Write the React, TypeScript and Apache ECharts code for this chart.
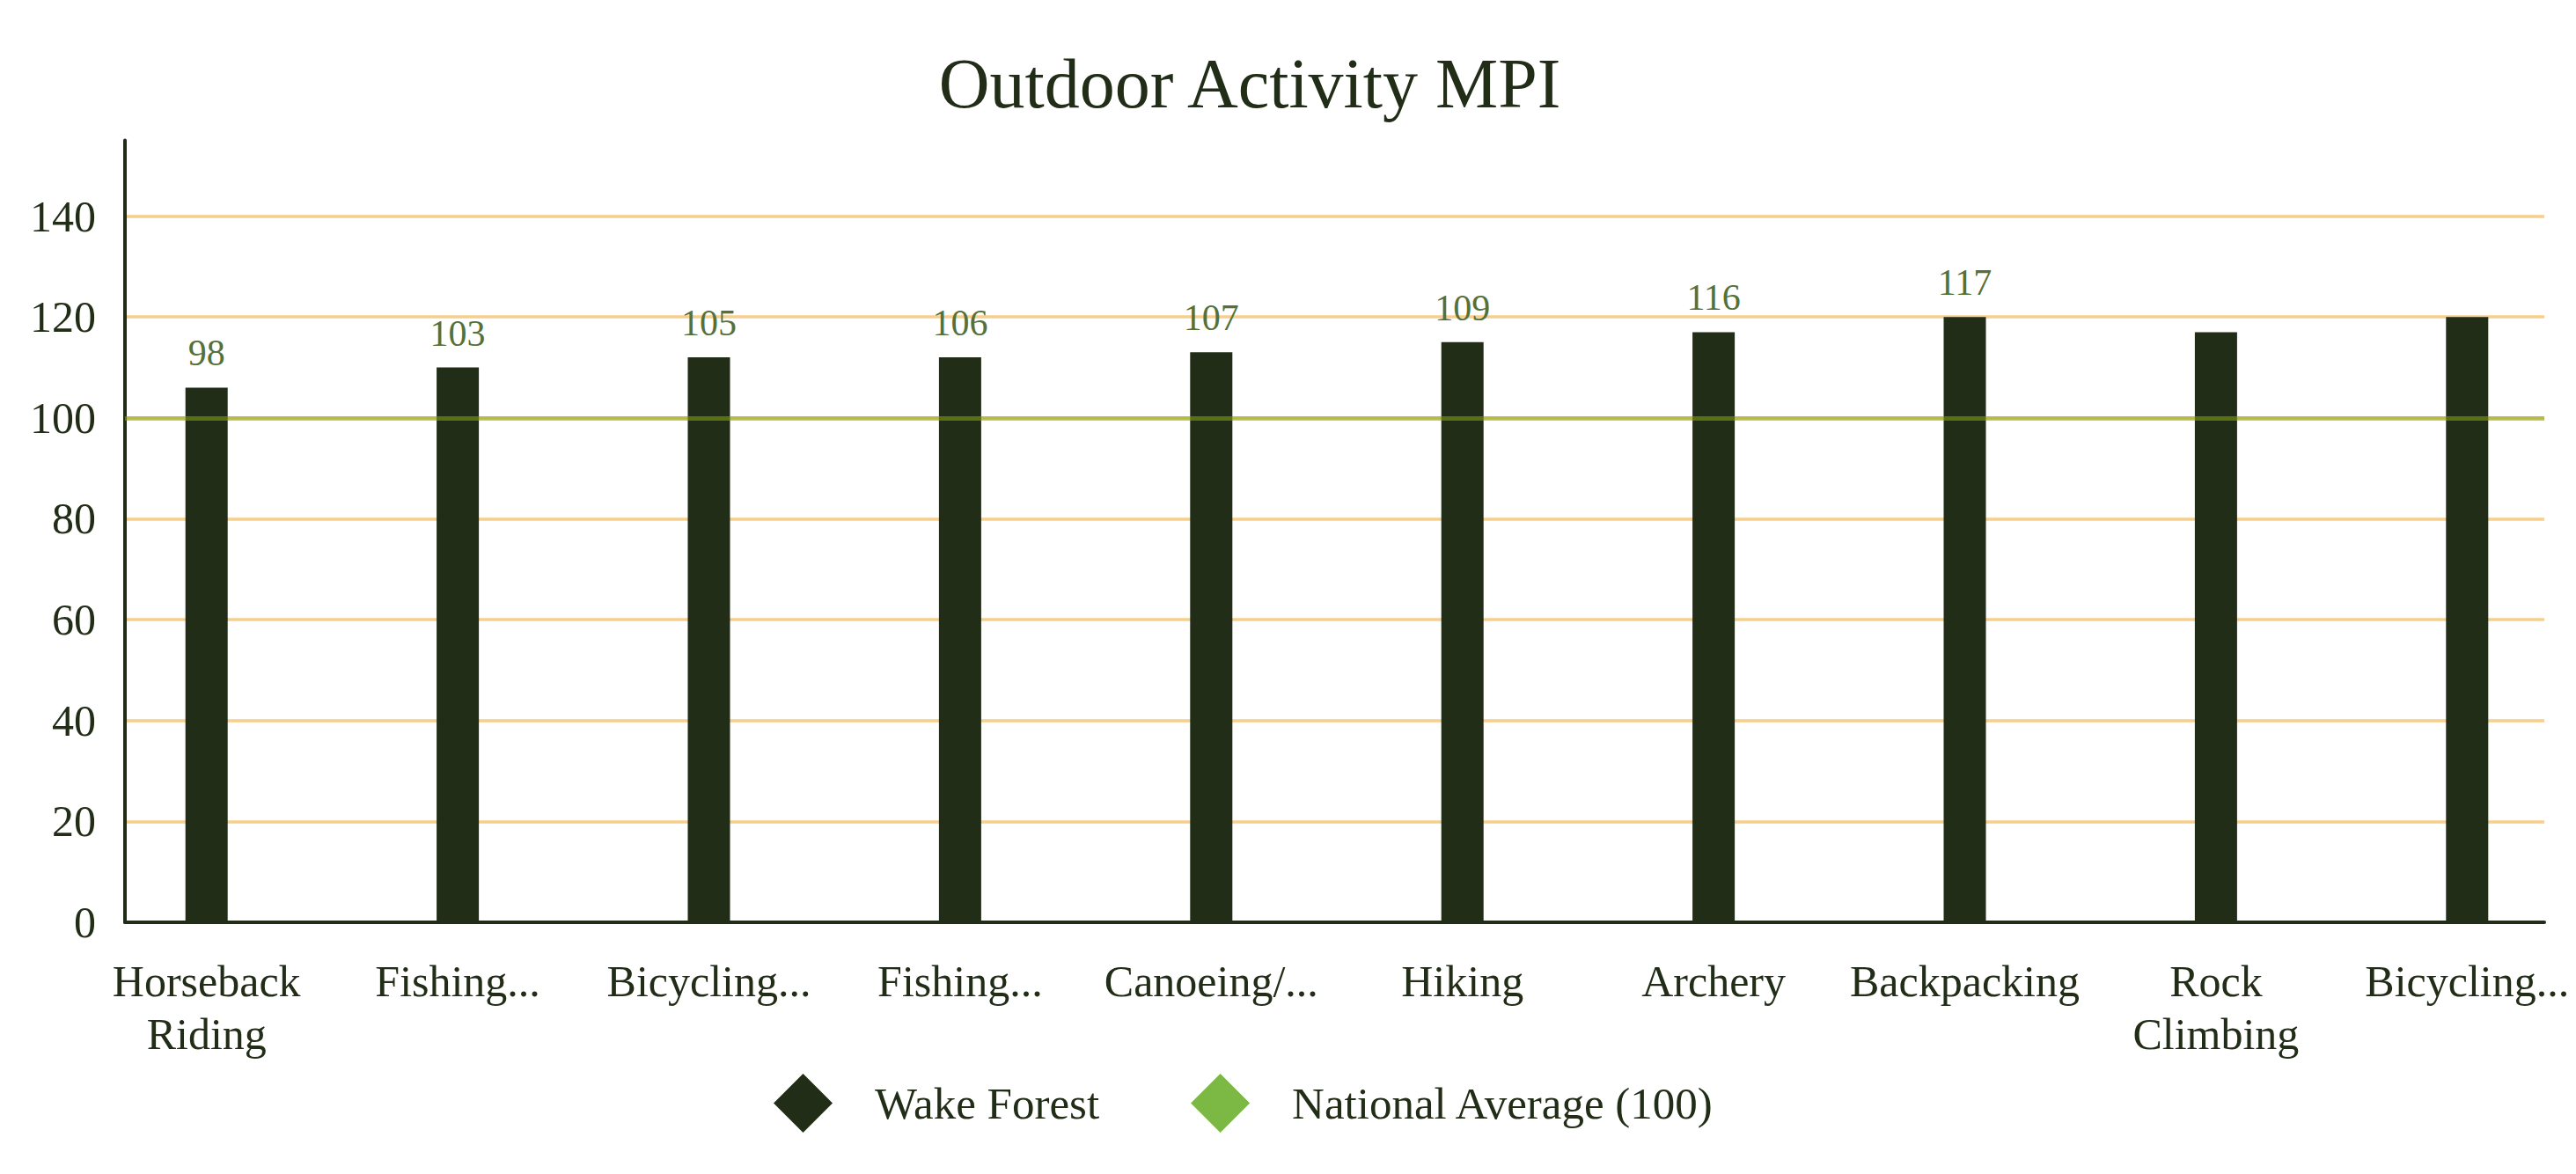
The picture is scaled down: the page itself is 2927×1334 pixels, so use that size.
import React, { useEffect, useRef } from 'react';
import * as echarts from 'echarts';

const categories = [
  'Horseback\nRiding',
  'Fishing...',
  'Bicycling...',
  'Fishing...',
  'Canoeing/...',
  'Hiking',
  'Archery',
  'Backpacking',
  'Rock\nClimbing',
  'Bicycling...',
];
const wakeForest = [106, 110, 112, 112, 113, 115, 117, 120, 117, 120];
const barLabels = ['98', '103', '105', '106', '107', '109', '116', '117', '', ''];
const nationalAverage = 100;
const seriesNames = ['Wake Forest', 'National Average (100)'];

const FONT = '"Liberation Serif", "DejaVu Serif", serif';
const DARK = '#222d18';

export default function App() {
  const ref = useRef<HTMLDivElement>(null);

  useEffect(() => {
    document.body.style.margin = '0';
    if (!ref.current) return;
    const chart = echarts.init(ref.current, null, { renderer: 'svg' });
    const option: any = {
      animation: false,
      backgroundColor: '#ffffff',
      title: {
        text: 'Outdoor Activity MPI',
        left: 1415,
        top: 50,
        textAlign: 'center',
        textStyle: { fontFamily: FONT, fontSize: 80, fontWeight: 'normal', color: DARK },
      },
      legend: {
        left: 874,
        top: 1215,
        itemWidth: 67,
        itemHeight: 67,
        itemGap: 104,
        icon: 'diamond',
        data: seriesNames,
        textStyle: { fontFamily: FONT, fontSize: 51, color: DARK, padding: [0, 0, 0, 43] },
      },
      grid: [
        { left: 142, right: 36, top: 159.6, bottom: 286, outerBoundsMode: 'none' },
        { left: 92, right: -19, top: 159.6, bottom: 286, outerBoundsMode: 'none' },
      ],
      xAxis: [
        {
          type: 'category',
          gridIndex: 0,
          data: categories,
          axisLine: { show: true, lineStyle: { color: DARK, width: 4 } },
          axisTick: { show: false },
          axisLabel: { show: false },
          splitLine: { show: false },
        },
        {
          type: 'category',
          gridIndex: 1,
          data: categories,
          axisLine: { show: false },
          axisTick: { show: false },
          splitLine: { show: false },
          axisLabel: {
            interval: 0,
            margin: 37,
            fontFamily: FONT,
            fontSize: 50,
            lineHeight: 60,
            color: DARK,
          },
        },
      ],
      yAxis: [
        {
          type: 'value',
          gridIndex: 0,
          min: 0,
          max: 155,
          interval: 20,
          axisLine: { show: true, lineStyle: { color: DARK, width: 4 } },
          axisTick: { show: false },
          axisLabel: {
            showMaxLabel: false,
            margin: 33,
            fontFamily: FONT,
            fontSize: 50,
            color: DARK,
          },
          splitLine: { show: true, showMaxLine: false, lineStyle: { color: '#f7cf8c', width: 3.5 } },
        },
        { type: 'value', gridIndex: 1, min: 0, max: 155, interval: 20, show: false },
      ],
      series: [
        {
          name: seriesNames[0],
          type: 'bar',
          xAxisIndex: 1,
          yAxisIndex: 1,
          data: wakeForest,
          barWidth: 48,
          itemStyle: { color: DARK },
          label: {
            show: true,
            position: 'top',
            distance: 18,
            formatter: (p: any) => barLabels[p.dataIndex] || '',
            color: '#56703a',
            fontFamily: FONT,
            fontSize: 42,
          },
        },
        {
          name: seriesNames[1],
          type: 'line',
          xAxisIndex: 0,
          yAxisIndex: 0,
          data: [],
          z: 5,
          itemStyle: { color: '#7cb944' },
          lineStyle: { color: '#7cb944' },
          markLine: {
            silent: true,
            symbol: 'none',
            label: { show: false },
            lineStyle: { color: 'rgba(135,168,15,0.55)', width: 5, type: 'solid' },
            data: [{ yAxis: nationalAverage }],
          },
        },
      ],
    };
    chart.setOption(option);
    return () => chart.dispose();
  }, []);

  return <div ref={ref} style={{ width: '2927px', height: '1334px' }} />;
}
